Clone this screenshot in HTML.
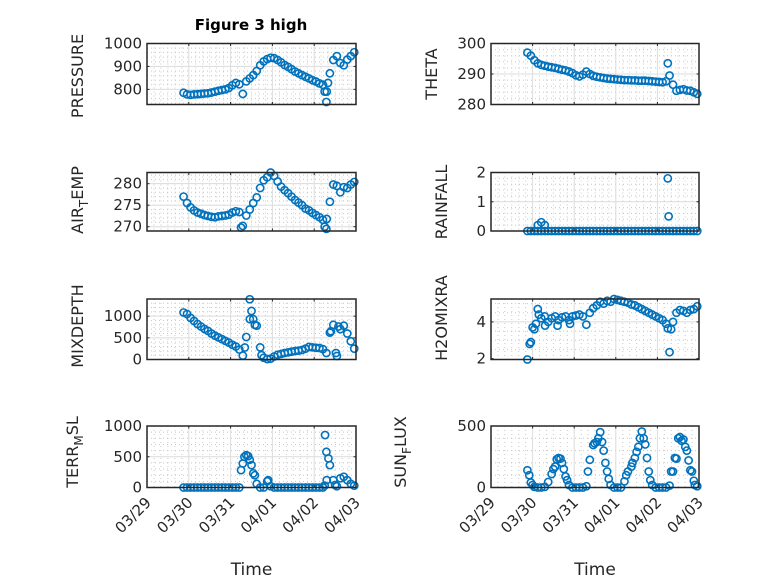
<!DOCTYPE html>
<html><head><meta charset="utf-8"><style>
body{margin:0;background:#fff;}
svg{display:block;font-family:"DejaVu Sans","Liberation Sans",sans-serif;}
</style></head><body>
<svg id="fig" width="778" height="583" viewBox="0 0 778 583" xmlns="http://www.w3.org/2000/svg">
<rect width="778" height="583" fill="#fff"/>
<text x="251" y="30" text-anchor="middle" font-size="15" font-weight="bold" fill="#000">Figure 3 high</text>
</svg>
<script>
const xTickLabels = ["03/29","03/30","03/31","04/01","04/02","04/03"];
const times = [0.875,0.958,1.042,1.125,1.208,1.292,1.375,1.458,1.542,1.625,1.708,1.792,1.875,1.958,2.042,2.125,2.208,2.292,2.375,2.458,2.542,2.625,2.708,2.792,2.875,2.958,3.042,3.125,3.208,3.292,3.375,3.458,3.542,3.625,3.708,3.792,3.875,3.958,4.042,4.125,4.208,4.292,4.375,4.458,4.542,4.625,4.708,4.792,4.875,4.958];
const pressure = [785,778,776,778,779,780,782,783,786,790,794,797,800,806,818,828,822,780,835,848,862,880,905,922,932,938,936,928,918,906,898,888,878,870,862,855,848,840,834,826,820,745,870,928,945,915,905,930,945,962];
const pressureExtraT = [4.25,4.30,4.33];
const pressureExtraV = [790,790,828];
const airTemp = [277.0,275.5,274.5,273.8,273.3,273.0,272.7,272.5,272.3,272.2,272.4,272.5,272.6,272.8,273.3,273.6,273.4,270.2,272.6,274.0,275.5,276.8,279.0,280.8,281.5,282.6,281.8,280.5,279.3,278.5,277.8,277.0,276.2,275.6,275.0,274.2,273.8,273.2,272.7,272.2,271.6,269.5,275.8,279.8,279.5,278.0,279.2,279.0,279.8,280.4];
const airExtraT = [4.25,4.30,2.25];
const airExtraV = [270.0,271.8,269.8];
const theta = [297.0,296.0,294.5,293.5,293.0,292.7,292.4,292.2,292.0,291.7,291.4,291.2,290.8,290.3,289.6,289.2,289.8,290.8,290.0,289.4,289.1,288.9,288.7,288.5,288.4,288.3,288.2,288.1,288.0,288.0,287.9,287.9,287.8,287.8,287.8,287.7,287.6,287.5,287.4,287.3,287.6,289.5,286.5,284.5,284.8,285.0,284.6,284.5,284.0,283.5];
const thetaExtraT = [4.25];
const thetaExtraV = [293.5];
const rainfall = [0,0,0,0.2,0.3,0.2,0,0,0,0,0,0,0,0,0,0,0,0,0,0,0,0,0,0,0,0,0,0,0,0,0,0,0,0,0,0,0,0,0,0,0,0,0,0,0,0,0,0,0,0];
const rainExtraT = [1.125,1.208,1.292,4.25,4.27];
const rainExtraV = [0,0,0,1.8,0.5];
const mixDepth = [1085,1050,960,890,820,760,705,660,600,550,510,470,430,390,340,300,230,90,520,1390,930,780,280,40,10,20,70,110,130,150,165,180,195,205,220,250,290,280,270,265,240,150,620,800,80,700,780,600,420,250];
const mixExtraT = [2.34,2.50,2.46,2.58,2.74,4.52,4.40,4.58];
const mixExtraV = [277,1120,930,800,100,150,650,760];
const h2oMix = [1.95,2.9,3.6,4.7,4.2,4.3,4.0,4.2,4.3,4.1,4.25,4.3,4.1,4.3,4.35,4.4,4.3,3.85,4.5,4.75,4.9,5.1,5.0,5.15,5.1,5.25,5.2,5.15,5.1,5.05,4.95,4.9,4.8,4.7,4.6,4.5,4.4,4.3,4.2,4.1,3.9,2.35,4.0,4.5,4.65,4.6,4.5,4.65,4.7,4.85];
const h2oExtraT = [0.93,1.0,1.08,1.15,1.3,1.6,1.9,4.25,4.33];
const h2oExtraV = [2.8,3.7,3.9,4.4,3.8,3.8,3.9,3.65,3.6];
const terrMsl = [0,0,0,0,0,0,0,0,0,0,0,0,0,0,0,0,0,390,527,450,230,60,0,0,100,20,0,0,0,0,0,0,0,0,0,0,0,0,0,0,0,580,364,120,20,150,175,120,60,30];
const terrExtraT = [2.25,2.33,2.42,2.5,2.58,2.9,4.26,4.34,4.30,4.5,4.25];
const terrExtraV = [283,500,510,364,200,120,853,473,120,40,30];
const sunFlux = [140,40,5,0,0,5,45,110,170,240,200,90,20,0,0,0,0,10,225,345,370,450,300,130,20,0,0,0,50,130,170,240,330,455,350,130,20,0,0,0,0,15,130,235,410,390,300,140,55,10];
const sunExtraT = [0.92,1.0,1.5,1.58,1.67,1.75,1.83,2.33,2.49,2.58,2.67,2.75,2.83,3.25,3.4,3.5,3.58,3.67,3.75,3.83,4.33,4.42,4.5,4.58,4.67,4.75,4.83,4.9];
const sunExtraV = [100,20,150,230,235,150,60,130,360,400,370,200,70,100,200,290,400,400,240,60,130,240,400,380,330,220,130,20];

const NS="http://www.w3.org/2000/svg";
const svg=document.getElementById('fig');
function mk(tag,attrs,parent){const e=document.createElementNS(NS,tag);for(const k in attrs)e.setAttribute(k,attrs[k]);(parent||svg).appendChild(e);return e;}

function panel(cfg){
  const {name,x0,x1,y0,y1,ymin,ymax,yticks,yminor,vals,tv,ev,xlabels,ylabel,lx,ly}=cfg;
  const g=mk('g',{});
  
  
  const X=t=>x0+(t-0)/(5-0)*(x1-x0);
  const Y=v=>y1-(v-ymin)/(ymax-ymin)*(y1-y0);
  mk('rect',{x:x0,y:y0,width:x1-x0,height:y1-y0,fill:'#fff'},g);
  for(let d=0;d<5;d++)for(let h=1;h<6;h++){const xx=X(d+h/6);mk('line',{x1:xx,x2:xx,y1:y0,y2:y1,stroke:'#c8c8c8','stroke-width':1,'stroke-dasharray':'1 3'},g);}
  for(let v=Math.ceil(ymin/yminor)*yminor;v<=ymax;v+=yminor){if(yticks.some(t=>Math.abs(t-v)<1e-6))continue;const yy=Y(v);mk('line',{x1:x0,x2:x1,y1:yy,y2:yy,stroke:'#c8c8c8','stroke-width':1,'stroke-dasharray':'1 3'},g);}
  for(let d=1;d<5;d++){const xx=X(d);mk('line',{x1:xx,x2:xx,y1:y0,y2:y1,stroke:'#dcdcdc','stroke-width':1},g);}
  yticks.forEach(v=>{const yy=Y(v);if(yy>y0+1&&yy<y1-1)mk('line',{x1:x0,x2:x1,y1:yy,y2:yy,stroke:'#dcdcdc','stroke-width':1},g);});
  const dg=mk('g',{fill:'none',stroke:'#0072BD','stroke-width':1.6},g);
  
  
  const all=times.map((t,i)=>[t,vals[i]]).concat(tv.map((t,i)=>[t,ev[i]]));
  all.forEach(p=>{const c=mk('circle',{cx:X(p[0]),cy:Y(p[1]),r:3.6},dg);
    
    });
  mk('rect',{x:x0,y:y0,width:x1-x0,height:y1-y0,fill:'none',stroke:'#262626','stroke-width':1.5},g);
  for(let d=0;d<=5;d++){const xx=X(d);mk('line',{x1:xx,x2:xx,y1:y1,y2:y1-2.5,stroke:'#262626'},g);mk('line',{x1:xx,x2:xx,y1:y0,y2:y0+2.5,stroke:'#262626'},g);}
  yticks.forEach(v=>{const yy=Y(v);mk('line',{x1:x0,x2:x0+2.5,y1:yy,y2:yy,stroke:'#262626'},g);mk('line',{x1:x1,x2:x1-2.5,y1:yy,y2:yy,stroke:'#262626'},g);
    const t=mk('text',{x:x0-5,y:yy+5,'text-anchor':'end','font-size':15,fill:'#262626'},g);t.textContent=v;
    
    });
  const yl=mk('text',{x:lx,y:ly,'text-anchor':'middle','font-size':16,fill:'#262626',transform:`rotate(-90 ${lx} ${ly})`},g);
  yl.innerHTML=ylabel;
  
  
  if(xlabels){
    xTickLabels.forEach((s,d)=>{const xx=X(d)+5,yy=y1+16;const t=mk('text',{x:xx,y:yy,'text-anchor':'end','font-size':15,fill:'#262626',transform:`rotate(-45 ${xx} ${yy})`},g);t.textContent=s;
      
      });
    const tl=mk('text',{x:(x0+x1)/2,y:575,'text-anchor':'middle','font-size':17,fill:'#262626'},g);tl.textContent='Time';
    
    
  }
}
const L0=147,L1=356,R0=491,R1=699;
panel({name:'pressure',x0:L0,x1:L1,y0:43.5,y1:104.5,ymin:734,ymax:1000,yticks:[800,900,1000],yminor:20,vals:pressure,tv:pressureExtraT,ev:pressureExtraV,ylabel:'PRESSURE',lx:83,ly:76});
panel({name:'air-temp',x0:L0,x1:L1,y0:172.5,y1:231,ymin:269,ymax:282.6,yticks:[270,275,280],yminor:1,vals:airTemp,tv:airExtraT,ev:airExtraV,ylabel:'AIR<tspan font-size="12" dy="5">T</tspan><tspan dy="-5">EMP</tspan>',lx:83,ly:200});
panel({name:'mixdepth',x0:L0,x1:L1,y0:299,y1:359.5,ymin:0,ymax:1396,yticks:[0,500,1000],yminor:100,vals:mixDepth,tv:mixExtraT,ev:mixExtraV,ylabel:'MIXDEPTH',lx:83,ly:326});
panel({name:'terr-msl',x0:L0,x1:L1,y0:426,y1:487.5,ymin:0,ymax:1000,yticks:[0,500,1000],yminor:100,vals:terrMsl,tv:terrExtraT,ev:terrExtraV,ylabel:'TERR<tspan font-size="12" dy="5">M</tspan><tspan dy="-5">SL</tspan>',lx:78,ly:452,xlabels:true});
panel({name:'theta',x0:R0,x1:R1,y0:43.5,y1:104.5,ymin:280,ymax:300,yticks:[280,290,300],yminor:2,vals:theta,tv:thetaExtraT,ev:thetaExtraV,ylabel:'THETA',lx:437,ly:74});
panel({name:'rainfall',x0:R0,x1:R1,y0:172.5,y1:231,ymin:0,ymax:2,yticks:[0,1,2],yminor:0.2,vals:rainfall,tv:rainExtraT,ev:rainExtraV,ylabel:'RAINFALL',lx:447,ly:202});
panel({name:'h2omixratio',x0:R0,x1:R1,y0:299,y1:359.5,ymin:1.95,ymax:5.25,yticks:[2,4],yminor:0.5,vals:h2oMix,tv:h2oExtraT,ev:h2oExtraV,ylabel:'H2OMIXRA',lx:447,ly:318});
panel({name:'sun-flux',x0:R0,x1:R1,y0:426,y1:487.5,ymin:0,ymax:500,yticks:[0,500],yminor:100,vals:sunFlux,tv:sunExtraT,ev:sunExtraV,ylabel:'SUN<tspan font-size="12" dy="5">F</tspan><tspan dy="-5">LUX</tspan>',lx:406,ly:452,xlabels:true});
</script>
</body></html>
